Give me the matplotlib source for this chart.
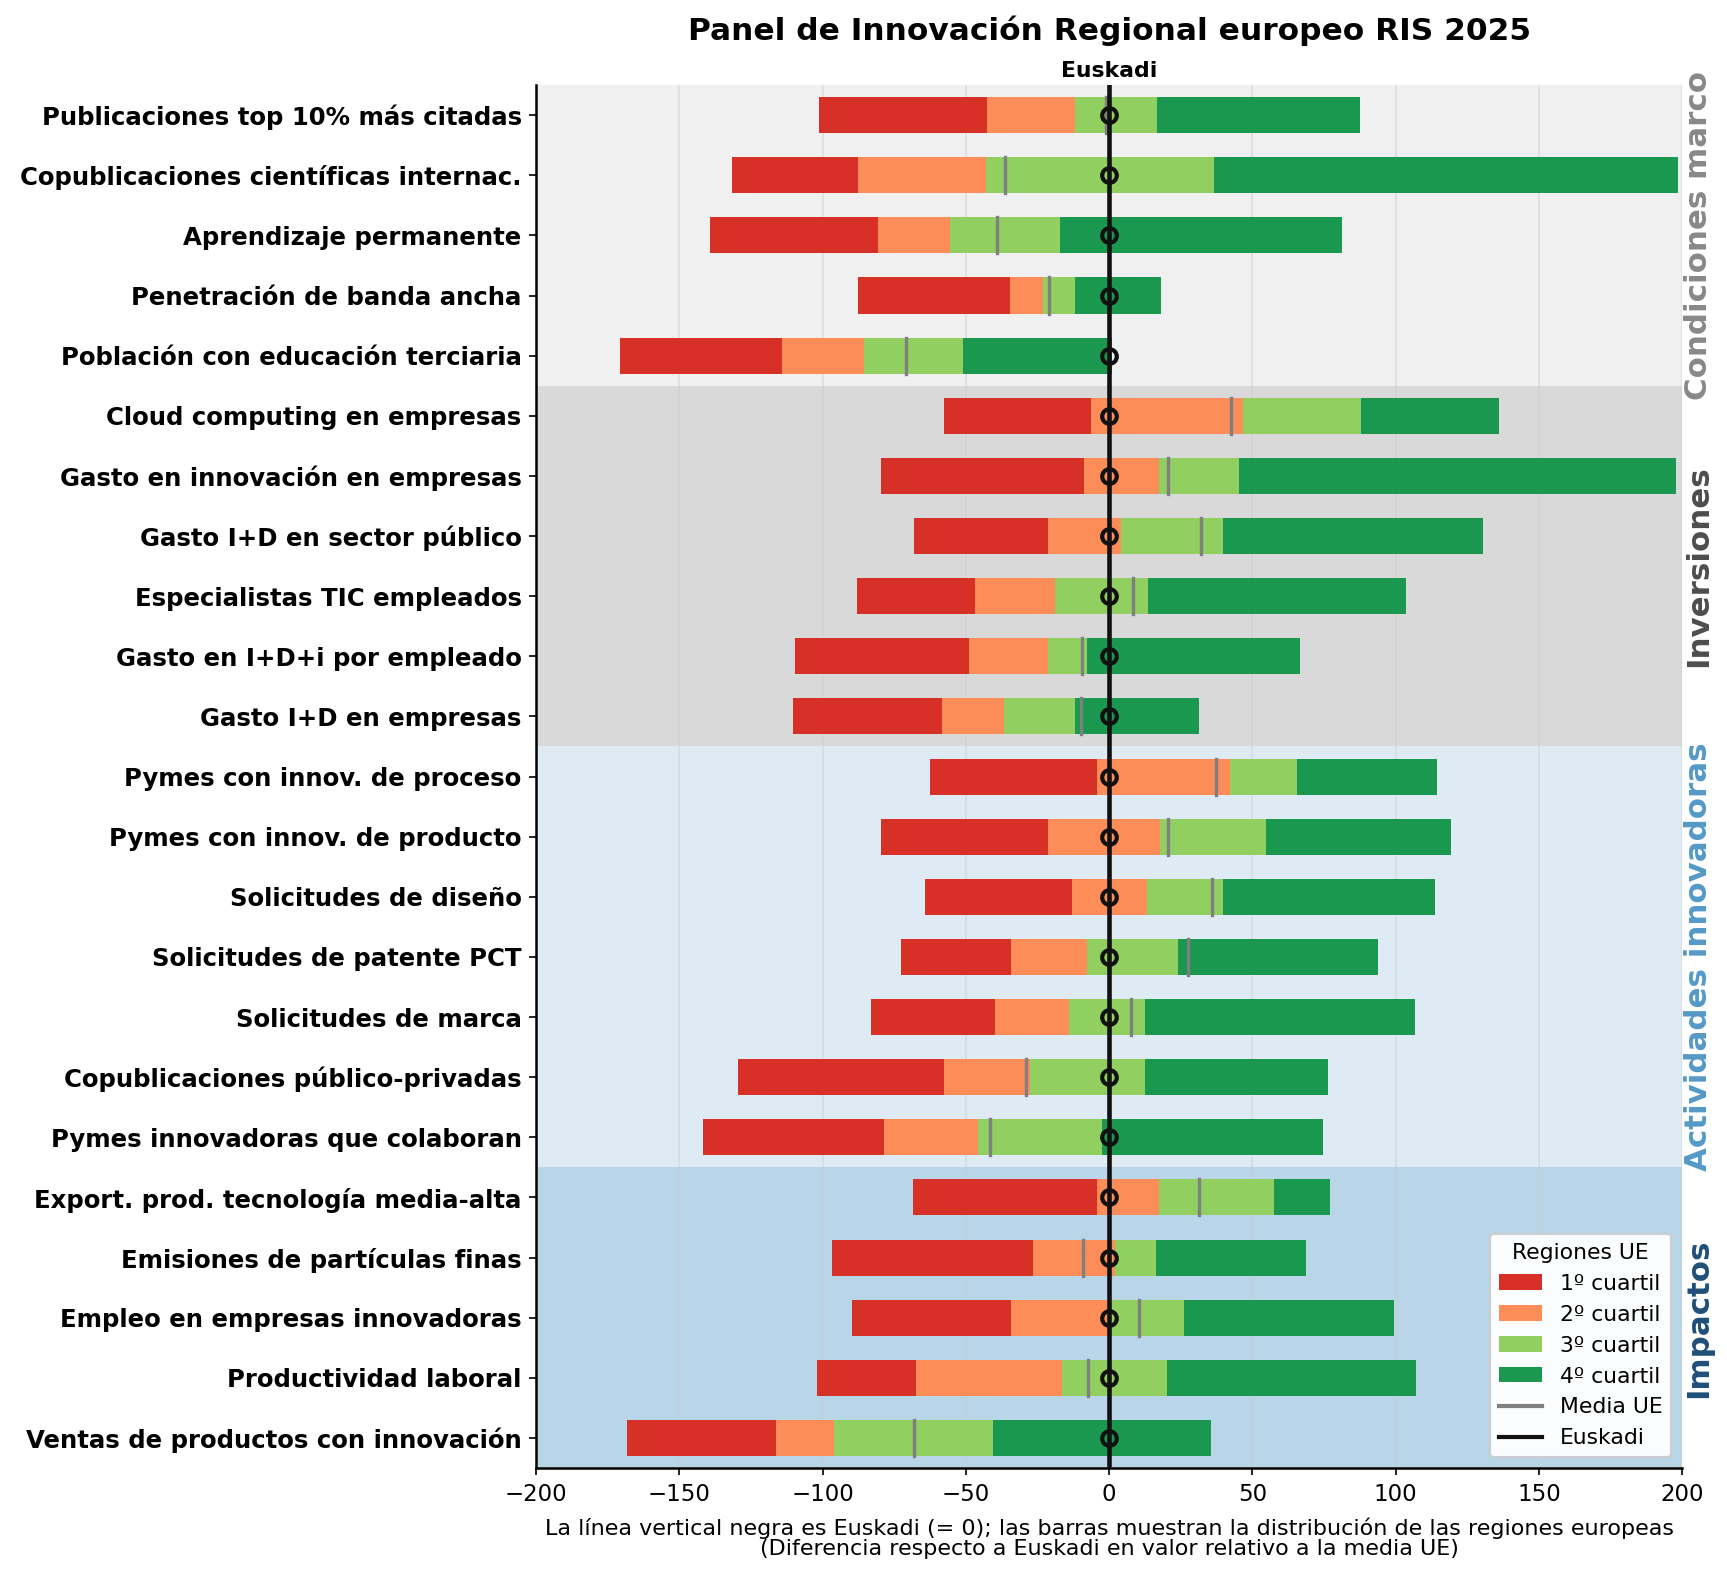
import matplotlib.pyplot as plt
from matplotlib.patches import Patch
from matplotlib.lines import Line2D
import matplotlib.transforms as mtransforms

# datos: limites de cuartiles (diferencia respecto a Euskadi) y media UE
indicadores = ['Publicaciones top 10% más citadas', 'Copublicaciones científicas internac.',
               'Aprendizaje permanente', 'Penetración de banda ancha',
               'Población con educación terciaria', 'Cloud computing en empresas',
               'Gasto en innovación en empresas', 'Gasto I+D en sector público',
               'Especialistas TIC empleados', 'Gasto en I+D+i por empleado',
               'Gasto I+D en empresas', 'Pymes con innov. de proceso',
               'Pymes con innov. de producto', 'Solicitudes de diseño',
               'Solicitudes de patente PCT', 'Solicitudes de marca',
               'Copublicaciones público-privadas', 'Pymes innovadoras que colaboran',
               'Export. prod. tecnología media-alta', 'Emisiones de partículas finas',
               'Empleo en empresas innovadoras', 'Productividad laboral',
               'Ventas de productos con innovación']

minimo = [-101.3, -131.8, -139.4, -87.7, -170.9, -57.7, -79.5, -68.2, -88.2, -109.7, -110.2,
          -62.7, -79.8, -64.3, -72.7, -83.2, -129.4, -141.7, -68.5, -96.9, -89.8, -102.1, -168.2]
q1 = [-42.8, -87.7, -80.6, -34.6, -114.2, -6.3, -8.7, -21.5, -47.0, -49.1, -58.3,
      -4.2, -21.5, -13.1, -34.4, -39.9, -57.5, -78.7, -4.2, -26.5, -34.4, -67.5, -116.3]
mediana = [-12.1, -43.0, -55.6, -23.1, -85.6, 46.7, 17.3, 4.2, -18.9, -21.3, -36.7,
           42.3, 17.8, 13.1, -7.9, -14.2, -27.8, -45.9, 17.3, 2.1, 0.0, -16.5, -96.1]
q3 = [16.8, 36.7, -17.3, -11.8, -50.9, 87.9, 45.4, 39.9, 13.4, -7.6, -11.8,
      65.6, 54.9, 39.9, 23.9, 12.6, 12.6, -2.4, 57.7, 16.5, 26.2, 20.2, -40.7]
maximo = [87.7, 198.4, 81.1, 18.1, 1.0, 136.2, 197.9, 130.4, 103.7, 66.7, 31.2,
          114.4, 119.2, 113.9, 94.0, 106.6, 76.4, 74.8, 77.2, 68.8, 99.5, 107.1, 35.7]
media_ue = [-1.0, -36.2, -39.1, -21.0, -70.9, 42.5, 20.5, 32.0, 8.4, -9.4, -9.7,
            37.3, 20.5, 36.0, 27.6, 7.6, -29.1, -41.5, 31.2, -9.2, 10.5, -7.3, -68.0]

grupos = ['Condiciones marco', 'Inversiones', 'Actividades innovadoras', 'Impactos']
n_por_grupo = [5, 6, 7, 5]
fondo_grupo = ['#f0f0f0', '#d9d9d9', '#deeaf4', '#b9d5e8']
color_grupo = ['#888888', '#4d4d4d', '#5599c8', '#1f4e79']

colores = ['#d73027', '#fc8d59', '#91cf60', '#1a9850']
etiquetas = ['1º cuartil', '2º cuartil', '3º cuartil', '4º cuartil']

fig = plt.figure(figsize=(11.5135, 10.507), dpi=150)
ax = fig.add_axes([0.3105, 0.0685, 0.6635, 0.8775])

y = list(range(len(indicadores)))

# fondos por grupo
inicio = 0
trans = mtransforms.blended_transform_factory(ax.transAxes, ax.transData)
for g, n in enumerate(n_por_grupo):
    ax.axhspan(inicio - 0.5, inicio + n - 0.5, color=fondo_grupo[g], zorder=0, lw=0)
    ax.text(1.002, inicio + (n - 1) / 2, grupos[g], transform=trans, rotation=90,
            ha='left', va='center', fontsize=14.8, fontweight='bold', color=color_grupo[g])
    inicio += n

# barras de cuartiles
limites = [minimo, q1, mediana, q3, maximo]
for k in range(4):
    izq = limites[k]
    der = limites[k + 1]
    ancho = [d - i for i, d in zip(izq, der)]
    ax.barh(y, ancho, left=izq, height=0.6, color=colores[k], zorder=2)

# media UE
for yi, m in zip(y, media_ue):
    ax.plot([m, m], [yi - 0.3, yi + 0.3], color='gray', lw=1.6, zorder=3)

# Euskadi
ax.axvline(0, color='#111111', lw=2.2, zorder=4)
ax.plot([0] * len(y), y, 'o', mfc='none', mec='#111111', mew=2, ms=7, zorder=5)

ax.set_xlim(-200, 200)
ax.set_ylim(len(y) - 0.5, -0.5)
ax.set_yticks(y)
ax.set_yticklabels(indicadores, fontsize=11.7, fontweight='bold')
ax.tick_params(axis='x', labelsize=11)
ax.grid(axis='x', color='#cccccc', alpha=0.5, lw=0.8, zorder=1)
ax.set_axisbelow(True)
ax.spines['top'].set_visible(False)
ax.spines['right'].set_visible(False)
ax.spines['left'].set_linewidth(1.2)
ax.spines['bottom'].set_linewidth(1.2)

ax.set_xlabel('La línea vertical negra es Euskadi (= 0); las barras muestran la distribución de las regiones europeas\n'
              '(Diferencia respecto a Euskadi en valor relativo a la media UE)', fontsize=10.7, labelpad=5.5,
              linespacing=1.0)

ax.text(0.5, 0.9805, 'Panel de Innovación Regional europeo RIS 2025', ha='center', va='center',
        fontsize=15, fontweight='bold',
        transform=mtransforms.blended_transform_factory(ax.transAxes, fig.transFigure))
ax.set_title('Euskadi', fontsize=10.5, fontweight='bold', pad=4)

handles = [Patch(facecolor=c, label=l) for c, l in zip(colores, etiquetas)]
handles.append(Line2D([0], [0], color='gray', lw=2, label='Media UE'))
handles.append(Line2D([0], [0], color='#111111', lw=2, label='Euskadi'))
ax.legend(handles=handles, title='Regiones UE', loc='lower right', fontsize=10.5,
          title_fontsize=10.5, framealpha=0.95, facecolor='white')

plt.savefig('out.png', dpi=150)
